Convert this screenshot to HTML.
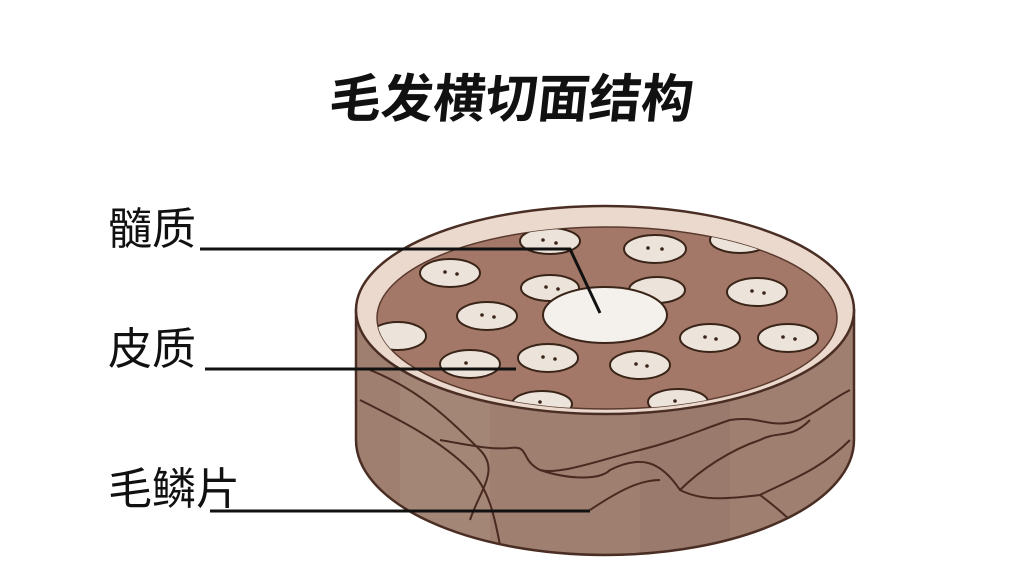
<!DOCTYPE html>
<html><head><meta charset="utf-8"><style>
html,body{margin:0;padding:0;background:#fff;}
svg{display:block}
text{font-family:"Liberation Sans","Noto Sans CJK SC",sans-serif;fill:#111}
</style></head><body>
<svg width="1028" height="568" viewBox="0 0 1028 568" xmlns="http://www.w3.org/2000/svg">
<rect width="1028" height="568" fill="#fff"/>
<text x="512" y="117" font-size="52" font-weight="bold" text-anchor="middle" transform="skewX(-6) translate(10,0)">毛发横切面结构</text>
<text x="108" y="244" font-size="44">髓质</text>
<text x="108" y="364" font-size="44">皮质</text>
<text x="108" y="504" font-size="44">毛鳞片</text>
<!-- side -->
<clipPath id="s"><path d="M356,310 L356,440 A249,115 0 0 0 854,440 L854,310 Z"/></clipPath>
<path d="M356,310 L356,440 A249,115 0 0 0 854,440 L854,310 Z" fill="#9e7f70"/>
<g clip-path="url(#s)">
<rect x="400" y="330" width="90" height="240" fill="#a88a7b" opacity="0.6"/>
<rect x="640" y="330" width="90" height="240" fill="#93766a" opacity="0.5"/>
<g fill="none" stroke="#4a2a20" stroke-width="2">
<path d="M360,400 C400,420 440,440 470,470 C490,490 495,520 500,545"/>
<path d="M370,370 C420,390 450,420 480,450 C500,470 480,490 470,520"/>
<path d="M440,440 C470,445 490,450 510,448 C530,445 520,460 540,470 C560,475 600,460 640,450 C680,440 700,430 730,420 C760,415 770,430 800,420 C820,410 830,400 850,390"/>
<path d="M540,470 C570,480 600,480 610,470 C640,455 660,460 680,490 C700,500 720,500 760,495 C790,480 820,470 850,440"/>
<path d="M680,490 C700,470 730,450 760,440 C780,430 790,440 810,420"/>
<path d="M590,510 C620,490 640,480 660,480"/>
<path d="M760,495 C780,510 790,520 800,530"/>
</g>
</g>
<path d="M356,310 L356,440 A249,115 0 0 0 854,440 L854,310 Z" fill="none" stroke="#4a2e24" stroke-width="2.5"/>
<!-- top -->
<ellipse cx="605" cy="310" rx="249" ry="104" fill="#ead9cc" stroke="#4a2e24" stroke-width="2.5"/>
<ellipse cx="607" cy="318" rx="230" ry="91" fill="#a47868" stroke="#5a3a2e" stroke-width="1.5"/>
<clipPath id="c"><ellipse cx="607" cy="318" rx="230" ry="91"/></clipPath>
<g clip-path="url(#c)" fill="#ece4da" stroke="#3a2418" stroke-width="2">
<ellipse cx="550" cy="241" rx="30" ry="13"/>
<ellipse cx="655" cy="249" rx="31" ry="14"/>
<ellipse cx="740" cy="240" rx="30" ry="13"/>
<ellipse cx="450" cy="273" rx="30" ry="14"/>
<ellipse cx="550" cy="288" rx="29" ry="13"/>
<ellipse cx="657" cy="290" rx="28" ry="13"/>
<ellipse cx="757" cy="292" rx="30" ry="14"/>
<ellipse cx="487" cy="316" rx="30" ry="14"/>
<ellipse cx="398" cy="336" rx="28" ry="14"/>
<ellipse cx="710" cy="338" rx="30" ry="14"/>
<ellipse cx="788" cy="338" rx="30" ry="14"/>
<ellipse cx="470" cy="364" rx="30" ry="14"/>
<ellipse cx="548" cy="358" rx="30" ry="14"/>
<ellipse cx="640" cy="365" rx="30" ry="14"/>
<ellipse cx="542" cy="404" rx="30" ry="13"/>
<ellipse cx="678" cy="402" rx="30" ry="13"/>
<ellipse cx="605" cy="315" rx="62" ry="28" fill="#f4f0ec"/>
</g>
<g fill="#3a2418">
<circle cx="543" cy="240" r="1.8"/><circle cx="556" cy="243" r="1.8"/><circle cx="648" cy="248" r="1.8"/><circle cx="662" cy="249" r="1.8"/>
<circle cx="445" cy="272" r="1.8"/><circle cx="457" cy="274" r="1.8"/><circle cx="546" cy="287" r="1.8"/><circle cx="558" cy="289" r="1.8"/>
<circle cx="752" cy="291" r="1.8"/><circle cx="764" cy="293" r="1.8"/><circle cx="482" cy="315" r="1.8"/><circle cx="494" cy="317" r="1.8"/>
<circle cx="705" cy="337" r="1.8"/><circle cx="716" cy="339" r="1.8"/><circle cx="783" cy="337" r="1.8"/><circle cx="795" cy="339" r="1.8"/>
<circle cx="543" cy="357" r="1.8"/><circle cx="555" cy="359" r="1.8"/><circle cx="636" cy="364" r="1.8"/><circle cx="647" cy="366" r="1.8"/>
<circle cx="540" cy="402" r="1.8"/><circle cx="675" cy="401" r="1.8"/><circle cx="466" cy="363" r="1.8"/>
</g>
<g fill="none" stroke="#111" stroke-width="3">
<path d="M200,249 L570,249 L600,313"/>
<path d="M205,369 L516,369"/>
<path d="M210,511 L590,511"/>
</g>
</svg>
</body></html>
